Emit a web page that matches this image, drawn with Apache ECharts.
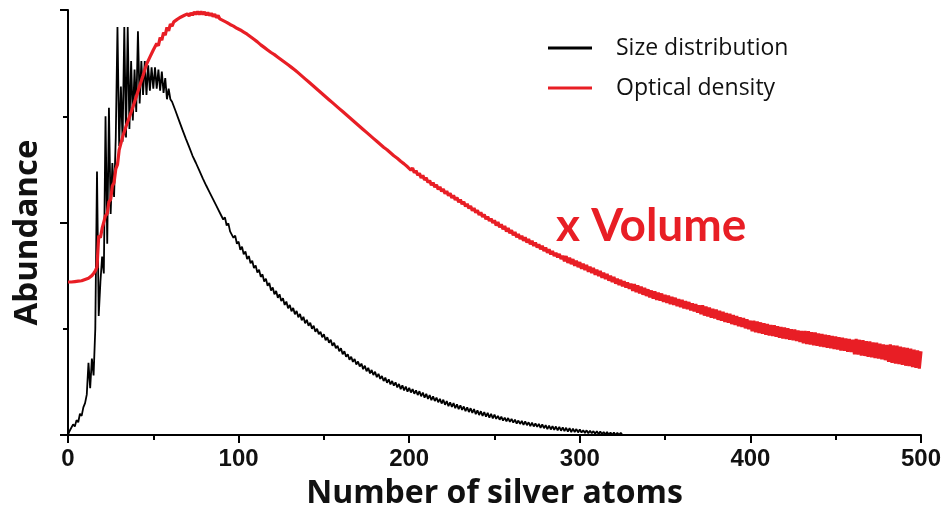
<!DOCTYPE html>
<html>
<head>
<meta charset="utf-8">
<script src="https://cdn.jsdelivr.net/npm/echarts@6/dist/echarts.min.js"></script>
<style>
  html, body { margin: 0; padding: 0; background: #ffffff; }
  #chart { width: 948px; height: 515px; }
</style>
</head>
<body>
<div id="chart"></div>
<script>
// Abundance for cluster sizes n = 0, 1, 2, ... in thousandths of the maximum.
const sizeDistribution = [
  0,10,12,25,20,35,30,50,45,65,
  75,95,170,110,180,140,250,620,280,360,
  420,380,750,450,770,520,640,560,700,960,
  680,820,690,960,700,960,720,880,740,860,
  760,950,780,880,800,880,800,870,810,865,
  815,865,815,860,810,855,805,840,790,815,
  790,784,786,763,764,741,742,719,721,698,
  700,678,679,657,660,640,643,622,625,604,
  608,587,591,571,575,555,559,539,543,523,
  527,507,512,493,498,479,483,464,469,450,
  455,436,443,425,432,414,421,404,410,393,
  399,382,389,372,378,361,368,351,358,340,
  347,331,339,323,331,315,322,306,314,298,
  306,291,299,284,292,277,285,270,278,263,
  271,257,264,250,257,243,250,237,243,230,
  237,223,230,217,224,210,217,204,210,197,
  204,190,197,184,190,177,184,172,179,166,
  173,161,168,155,163,150,158,145,153,141,
  149,136,144,132,139,127,135,123,131,119,
  127,116,124,112,120,108,117,105,114,102,
  111,100,108,97,105,94,103,91,100,88,
  97,85,94,82,91,80,88,77,85,74,
  83,71,80,68,77,66,75,63,72,61,
  70,59,67,56,65,54,63,52,61,49,
  58,47,56,45,54,43,52,41,50,39,
  48,38,45,36,43,34,41,32,40,31,
  38,29,36,27,34,26,33,24,32,23,
  30,21,29,20,27,19,26,17,25,16,
  23,14,22,13,21,12,20,11,19,10,
  18,9,17,8,16,7,15,7,14,6,
  13,6,11,5,11,4,10,4,9,3,
  9,2,8,2,7,1,7,0,6,0,
  6,0,5,0,5,0,4,0,4,0,
  3,0
];

const opticalDensity = [
  360,360,360,360,361,361,362,362,363,364,
  366,367,369,372,375,380,386,395,469,464,
  486,489,516,521,549,554,586,594,626,636,
  671,674,701,702,726,725,748,748,771,772,
  796,797,821,822,846,847,872,869,889,886,
  906,902,921,916,935,929,947,941,959,951,
  967,962,972,969,978,975,983,979,987,983,
  991,986,993,988,995,990,996,990,996,990,
  995,988,994,987,992,985,990,982,987,979,
  983,975,979,971,975,966,970,962,966,957,
  961,953,956,948,951,943,946,937,940,931,
  934,925,928,918,921,912,915,906,909,900,
  904,895,898,889,892,883,886,877,880,871,
  874,865,868,859,862,852,855,845,848,838,
  841,831,834,824,827,817,820,810,813,803,
  806,796,798,789,791,782,784,775,777,768,
  770,761,763,754,756,747,749,740,742,733,
  735,726,728,719,721,712,714,705,707,698,
  700,691,693,684,687,677,680,671,673,664,
  667,657,660,651,654,644,647,638,640,631,
  634,623,628,617,622,611,616,605,611,600,
  605,594,599,588,594,583,589,578,584,573,
  579,568,574,563,569,558,564,553,559,548,
  554,543,549,538,544,533,539,528,534,523,
  529,518,524,513,519,508,514,504,509,499,
  505,493,501,489,496,484,492,479,487,475,
  482,470,478,465,473,461,469,457,465,453,
  461,449,457,445,453,441,449,437,445,433,
  441,429,437,425,433,421,429,418,426,414,
  422,409,421,405,417,402,414,398,410,395,
  407,391,403,388,400,384,396,381,393,377,
  389,374,386,370,382,367,379,363,375,360,
  372,356,368,353,365,350,362,347,359,344,
  356,339,355,336,352,333,349,330,346,327,
  343,324,340,321,338,318,335,316,333,313,
  330,311,328,308,325,306,323,303,320,301,
  318,298,315,296,313,293,310,291,308,288,
  305,284,305,281,302,279,300,276,297,274,
  295,271,292,269,290,266,287,264,285,261,
  282,259,280,256,277,254,275,251,272,249,
  269,244,269,242,267,240,265,238,263,236,
  261,234,259,233,258,231,256,229,254,227,
  253,226,251,224,249,223,248,221,246,219,
  245,216,245,214,244,213,242,211,241,210,
  239,208,238,207,236,205,235,204,233,202,
  232,201,230,199,229,198,227,196,226,195,
  224,190,226,189,224,187,223,186,221,184,
  220,183,218,181,217,180,215,178,213,176,
  212,172,213,170,211,168,210,167,208,165,
  206,163,205,162,203,160,201,158,199,156,
  197
];

const seriesNames = ['Size distribution', 'Optical density'];
const xTickValues = [0, 100, 200, 300, 400, 500];
const xAxisTitle = 'Number of silver atoms';
const yAxisTitle = 'Abundance';
const volumeNote = 'x Volume';

const BLACK = '#000000';
const RED = '#e81e25';

// index in the list is the number of atoms
function toPoints(values) {
  return values.map((v, n) => [n, v / 1000]);
}

const chart = echarts.init(document.getElementById('chart'), null, { renderer: 'canvas' });

chart.setOption({
  animation: false,
  backgroundColor: '#ffffff',
  grid: { left: 68, right: 27, top: 10, bottom: 80, containLabel: false },
  legend: {
    orient: 'vertical',
    left: 543,
    top: 30,
    icon: 'rect',
    itemWidth: 44,
    itemHeight: 3,
    itemGap: 14,
    textStyle: {
      fontFamily: 'Open Sans',
      fontSize: 23,
      color: '#111111',
      lineHeight: 26,
      padding: [0, 0, 0, 19]
    },
    data: seriesNames
  },
  xAxis: {
    type: 'value',
    min: xTickValues[0],
    max: xTickValues[xTickValues.length - 1],
    interval: xTickValues[1] - xTickValues[0],
    axisLine: { show: true, onZero: false, lineStyle: { color: BLACK, width: 2 } },
    axisTick: { show: true, inside: false, length: 8, lineStyle: { color: BLACK, width: 2 } },
    minorTick: { show: true, splitNumber: 2, length: 5, lineStyle: { color: BLACK, width: 2 } },
    splitLine: { show: false },
    axisLabel: {
      margin: 12,
      fontFamily: 'Liberation Sans',
      fontWeight: 'bold',
      fontSize: 24,
      color: '#111111'
    },
    name: xAxisTitle,
    nameLocation: 'middle',
    nameGap: 43,
    nameTextStyle: {
      fontFamily: 'Open Sans',
      fontWeight: 'bold',
      fontSize: 32,
      color: '#111111'
    }
  },
  yAxis: {
    type: 'value',
    min: 0,
    max: 1,
    interval: 0.5,
    axisLine: { show: true, onZero: false, lineStyle: { color: BLACK, width: 2 } },
    axisTick: { show: true, inside: false, length: 8, lineStyle: { color: BLACK, width: 2 } },
    minorTick: { show: true, splitNumber: 2, length: 5, lineStyle: { color: BLACK, width: 2 } },
    splitLine: { show: false },
    axisLabel: { show: false },
    name: yAxisTitle,
    nameLocation: 'middle',
    nameGap: 24,
    nameTextStyle: {
      fontFamily: 'Open Sans',
      fontWeight: 'bold',
      fontSize: 33,
      color: '#111111',
      padding: [0, 20, 0, 0]
    }
  },
  series: [
    {
      name: seriesNames[0],
      type: 'line',
      data: toPoints(sizeDistribution),
      symbol: 'none',
      sampling: null,
      lineStyle: { color: BLACK, width: 1.8 },
      itemStyle: { color: BLACK },
      z: 2
    },
    {
      name: seriesNames[1],
      type: 'line',
      data: toPoints(opticalDensity),
      symbol: 'none',
      sampling: null,
      lineStyle: { color: RED, width: 3.2 },
      itemStyle: { color: RED },
      z: 3
    }
  ],
  graphic: [
    {
      type: 'text',
      x: 556,
      y: 226,
      style: {
        text: volumeNote,
        font: 'bold 46px Lato',
        fill: RED,
        verticalAlign: 'middle'
      }
    }
  ]
});
</script>
</body>
</html>
